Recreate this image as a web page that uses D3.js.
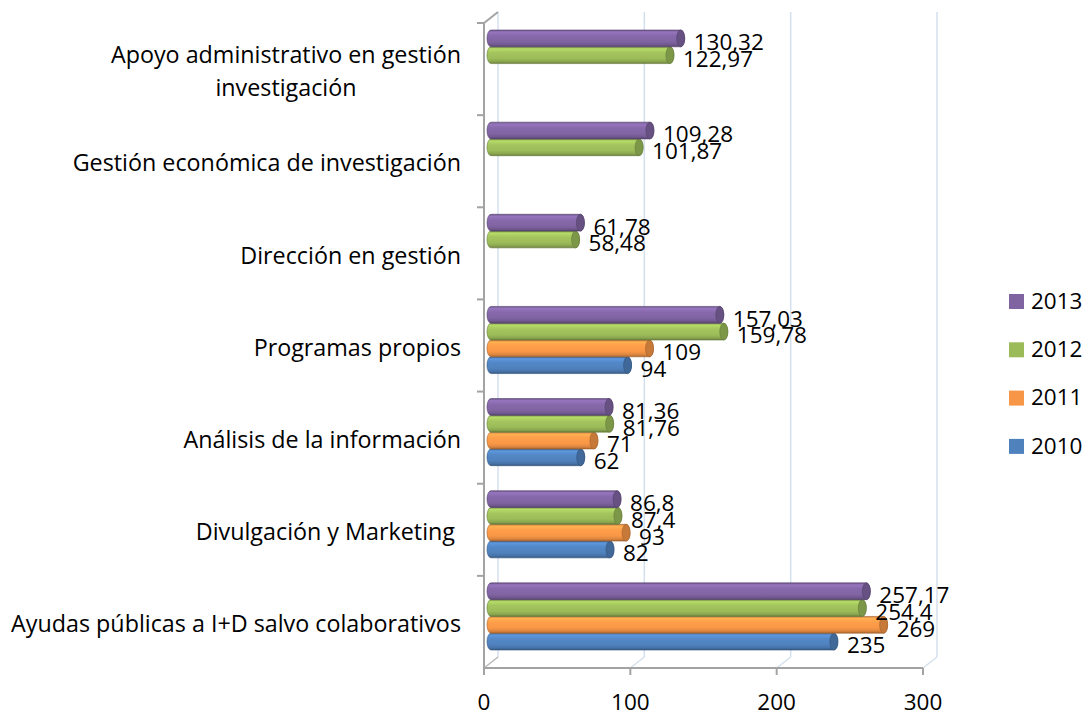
<!DOCTYPE html>
<html>
<head>
<meta charset="utf-8">
<script src="https://cdn.jsdelivr.net/npm/d3@7"></script>
<style>
  body { margin: 0; background: #fff; }
  svg text { font-family: "Open Sans", "Noto Sans", sans-serif; fill: #000; white-space: pre; }
</style>
</head>
<body>
<div id="chart"></div>
<script>
// Data (bottom to top, as in the chart)
const categories = [
    "Ayudas públicas a I+D salvo colaborativos",
    "Divulgación y Marketing ",
    "Análisis de la información",
    "Programas propios",
    "Dirección en gestión",
    "Gestión económica de investigación",
    "Apoyo administrativo en gestión|investigación"
]
const years = ["2010", "2011", "2012", "2013"]
const values2010 = [235, 82, 62, 94, null, null, null]
const values2011 = [269, 93, 71, 109, null, null, null]
const values2012 = [254.4, 87.4, 81.76, 159.78, 58.48, 101.87, 122.97]
const values2013 = [257.17, 86.8, 81.36, 157.03, 61.78, 109.28, 130.32]
const xTicks = [0, 100, 200, 300]

const seriesValues = [values2010, values2011, values2012, values2013]
const colors = {"2010": "#4f81bd", "2011": "#f79646", "2012": "#9bbb59", "2013": "#8064a2"}

/*
    Layout
*/
const width = 1091;
const height = 718;
const depthX = 14, depthY = -11;   // offset of the back wall
const capRx = 4;

const svg = d3.select("#chart").append("svg")
    .attr("width", width)
    .attr("height", height);

const x = d3.scaleLinear().domain([0, 300]).range([484, 923]);
const y0 = d3.scaleBand().domain(categories).range([668, 23]);
const y1 = d3.scaleBand().domain(years.slice().reverse())
    .range([12.5, y0.bandwidth() - 12.5]);

// Back wall gridlines + floor diagonals
const grid = svg.append("g");
xTicks.forEach(t => {
    grid.append("line")
        .attr("x1", x(t) + depthX).attr("x2", x(t) + depthX)
        .attr("y1", y0.range()[1] + depthY).attr("y2", y0.range()[0] + depthY)
        .attr("stroke", "#d4e0ee").attr("stroke-width", 1.5);
    grid.append("line")
        .attr("x1", x(t) + depthX).attr("x2", x(t))
        .attr("y1", y0.range()[0] + depthY).attr("y2", y0.range()[0])
        .attr("stroke", t == 0 ? "#b8b8b8" : "#d4e0ee").attr("stroke-width", 1.5);
});

// Front axis frame
const axisColor = "#a3a3a3";
const frame = svg.append("g").attr("stroke", axisColor).attr("stroke-width", 2).attr("fill", "none");
frame.append("line")
    .attr("x1", x(0)).attr("x2", x(0))
    .attr("y1", y0.range()[1]).attr("y2", y0.range()[0]);
frame.append("line")
    .attr("x1", x(0)).attr("x2", x(0) + depthX)
    .attr("y1", y0.range()[1]).attr("y2", y0.range()[1] + depthY);
frame.append("line")
    .attr("x1", x(0)).attr("x2", x(300))
    .attr("y1", y0.range()[0]).attr("y2", y0.range()[0]);
xTicks.forEach(t => {
    frame.append("line")
        .attr("x1", x(t)).attr("x2", x(t))
        .attr("y1", y0.range()[0]).attr("y2", y0.range()[0] + 7);
});
categories.forEach(c => {
    frame.append("line")
        .attr("x1", x(0) - 7).attr("x2", x(0))
        .attr("y1", y0(c)).attr("y2", y0(c));
});
frame.append("line")
    .attr("x1", x(0) - 7).attr("x2", x(0))
    .attr("y1", y0.range()[1]).attr("y2", y0.range()[1]);

// X tick labels
svg.append("g").selectAll("text")
    .data(xTicks)
    .enter()
    .append("text")
    .attr("x", d => x(d))
    .attr("y", 702)
    .attr("dy", "0.35em")
    .attr("text-anchor", "middle")
    .style("font-size", "22.5px")
    .text(d => d);

// Category labels (right aligned block, centered lines)
categories.forEach(c => {
    const lines = c.split("|");
    const cy = y0(c) + y0.bandwidth() / 2 + 2;
    const lh = 33;
    const g = svg.append("g");
    const texts = lines.map((ln, i) => g.append("text")
        .attr("y", cy + (i - (lines.length - 1) / 2) * lh)
        .attr("dy", "0.35em")
        .style("font-size", "23.3px")
        .text(ln));
    const widths = texts.map(t => t.node().getComputedTextLength());
    const maxW = d3.max(widths);
    const right = 461;
    texts.forEach(t => {
        t.attr("x", right - maxW / 2).attr("text-anchor", "middle");
    });
});

// Gradients for cylinders
const defs = svg.append("defs");
years.forEach(yr => {
    const base = d3.color(colors[yr]);
    const grad = defs.append("linearGradient")
        .attr("id", `g${yr}`)
        .attr("x1", 0).attr("x2", 0).attr("y1", 0).attr("y2", 1);
    const stops = [
        [0, base.darker(0.5)],
        [0.12, base.brighter(0.45)],
        [0.35, base.brighter(0.15)],
        [0.7, base],
        [0.88, base.darker(0.35)],
        [1, base.darker(1.1)]
    ];
    stops.forEach(s => grad.append("stop").attr("offset", s[0]).attr("stop-color", s[1]));
});

// Bars
const depthShift = depthY / 2;
years.forEach((yr, si) => {
    const vals = seriesValues[si];
    const rows = categories.map((c, i) => ({cat: c, value: vals[i]})).filter(d => d.value != null);
    const g = svg.append("g");
    const h = y1.bandwidth();
    rows.forEach(d => {
        const top = y0(d.cat) + y1(yr) + depthShift;
        const xs = x(0) + depthX / 2;
        const xe = x(d.value) + depthX / 2 - 1;
        const r = h / 2;
        g.append("path")
            .attr("d", `M${xs},${top} L${xe},${top} A${capRx},${r} 0 0 1 ${xe},${top + h} L${xs},${top + h} A${capRx},${r} 0 0 1 ${xs},${top} Z`)
            .attr("fill", `url(#g${yr})`)
            .attr("stroke", d3.color(colors[yr]).darker(1.2))
            .attr("stroke-width", 0.6);
        g.append("ellipse")
            .attr("cx", xe).attr("cy", top + r)
            .attr("rx", capRx).attr("ry", r)
            .attr("fill", d3.color(colors[yr]).darker(0.6))
            .attr("stroke", d3.color(colors[yr]).darker(1.2))
            .attr("stroke-width", 0.6);
        g.append("text")
            .attr("x", xe + capRx + 9)
            .attr("y", top + r + 4)
            .attr("dy", "0.35em")
            .style("font-size", "22.5px")
            .text(String(d.value).replace(".", ","));
    });
});

// Legend
const legend = svg.append("g");
years.slice().reverse().forEach((yr, i) => {
    const ly = 301 + i * 48.3;
    legend.append("rect")
        .attr("x", 1009).attr("y", ly - 7)
        .attr("width", 15).attr("height", 15)
        .attr("fill", colors[yr]);
    legend.append("text")
        .attr("x", 1031).attr("y", ly)
        .attr("dy", "0.35em")
        .style("font-size", "22.5px")
        .text(yr);
});
</script>
</body>
</html>
